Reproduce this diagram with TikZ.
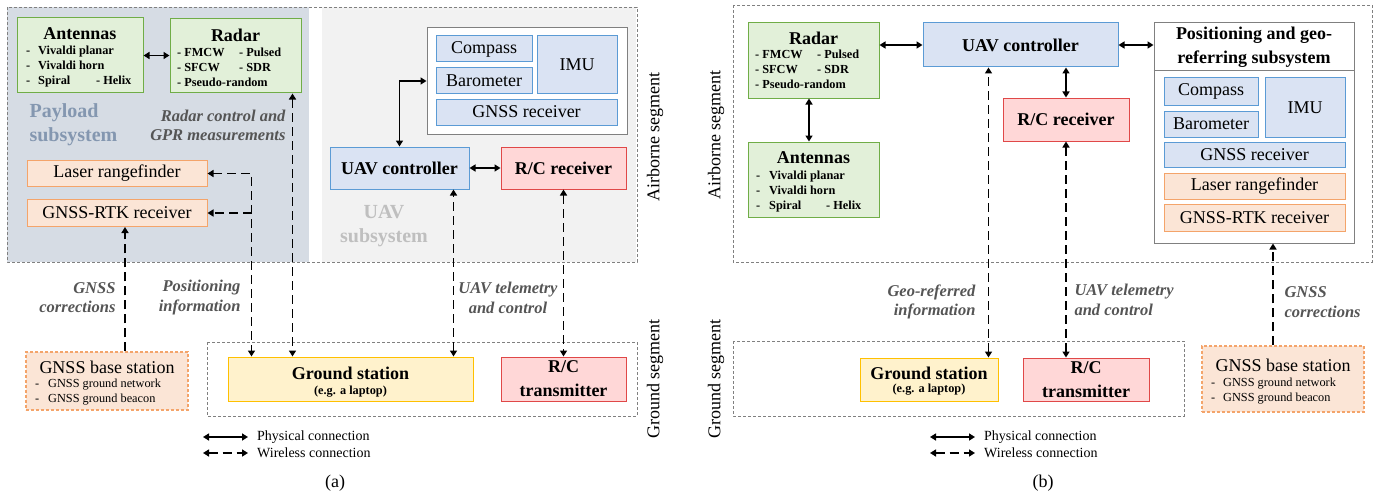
\documentclass[tikz,border=0pt]{standalone}
\usepackage{fontspec}
\setmainfont{Liberation Serif}
\usetikzlibrary{arrows.meta}

\definecolor{payfill}{HTML}{D6DCE4}
\definecolor{paytext}{HTML}{8497B0}
\definecolor{uavfill}{HTML}{F2F2F2}
\definecolor{uavtext}{HTML}{BFBFBF}
\definecolor{grnfill}{HTML}{E2F0D9}
\definecolor{grnline}{HTML}{70AD47}
\definecolor{blufill}{HTML}{DAE3F3}
\definecolor{bluline}{HTML}{5B9BD5}
\definecolor{orgfill}{HTML}{FBE5D6}
\definecolor{orgline}{HTML}{F4A46A}
\definecolor{redfill}{HTML}{FFD7D7}
\definecolor{redline}{HTML}{E04848}
\definecolor{ylwfill}{HTML}{FFF2CC}
\definecolor{ylwline}{HTML}{FFC000}
\definecolor{lbltext}{HTML}{555555}
\definecolor{segline}{HTML}{808080}

\newcommand\bigtxt{\fontsize{18}{21}\selectfont}
\newcommand\tallbig{\fontsize{18}{24}\selectfont\bfseries}
\newcommand\smalltxt{\fontsize{12.3}{15}\selectfont}
\newcommand\labtxt{\fontsize{16.5}{19.5}\selectfont\bfseries\itshape}
\newcommand\subtxt{\fontsize{20}{24}\selectfont\bfseries}
\newcommand\legtxt{\fontsize{14}{16}\selectfont}

\begin{document}
\begin{tikzpicture}[x=1pt, y=-1pt, >={Triangle[length=6pt,width=7pt]},
  sz/.style 2 args={minimum width=#1, minimum height=#2},
  box/.style={draw, line width=1pt, inner sep=0pt, align=center, font=\bigtxt},
  grnbox/.style={box, draw=grnline, fill=grnfill},
  blubox/.style={box, draw=bluline, fill=blufill},
  orgbox/.style={box, draw=orgline, fill=orgfill},
  redbox/.style={box, draw=redline, fill=redfill, font=\tallbig},
  ylwbox/.style={box, draw=ylwline, fill=ylwfill},
  basebox/.style={orgbox, line width=1.2pt, dash pattern=on 3pt off 2pt},
  segbox/.style={draw=segline, line width=0.9pt, dash pattern=on 3pt off 2pt},
  wired/.style={<->, line width=1.6pt},
  wless/.style={line width=1.6pt, dash pattern=on 9pt off 5pt},
  lbl/.style={font=\labtxt, text=lbltext, align=right},
  itm/.style={font=\smalltxt\bfseries, anchor=west, inner sep=0pt},
  ttl/.style={font=\bigtxt\bfseries},
  seg/.style={rotate=90, font=\bigtxt},
  leg/.style={font=\legtxt, anchor=west, inner sep=0pt},
]
\useasboundingbox (0,0) rectangle (1374,495);

% ---------------- (a) ----------------
\fill[payfill] (7,7) rectangle (309,262);
\fill[uavfill] (322,7) rectangle (636,262);
\draw[segbox] (7,7) rectangle (637,262);
\draw[segbox] (207,342) rectangle (637,416);

\node[grnbox, sz={126}{75}] (antA) at (80,55.5) {};
\node[ttl] at (80,34) {Antennas};
\node[itm] at (26,67) {\begin{tabular}{@{}p{12pt}@{}l@{}}
  - & Vivaldi planar\\ - & Vivaldi horn\\ - & \makebox[58pt][l]{Spiral}- Helix\end{tabular}};

\node[grnbox, sz={131}{74}] (radA) at (235.5,56) {};
\node[ttl] at (235.5,35) {Radar};
\node[itm] at (177,68) {\begin{tabular}{@{}p{62pt}@{}l@{}}
  - FMCW & - Pulsed\\ - SFCW & - SDR\\ \multicolumn{2}{@{}l@{}}{- Pseudo-random}\end{tabular}};

\node[font=\subtxt, text=paytext, align=left, anchor=west] at (26,125) {Payload\\subsystem};
\node[lbl, anchor=east] at (289,125.5) {Radar control and\\GPR measurements};

\node[orgbox, sz={180}{26}] (lasA) at (117,173.5) {Laser rangefinder};
\node[orgbox, sz={180}{27}] (rtkA) at (117,213) {GNSS-RTK receiver};

\node[box, draw=segline, fill=white, sz={200}{106}] (sensA) at (527,81) {};
\node[blubox, sz={96}{26}] (cmpA) at (484,49) {Compass};
\node[blubox, sz={96}{26}] (barA) at (484,81) {Barometer};
\node[blubox, sz={80}{58}] (imuA) at (577,65) {IMU};
\node[blubox, sz={181}{26}] (gnsA) at (526.5,112) {GNSS receiver};

\node[blubox, font=\bigtxt\bfseries, sz={139}{42}] (uavA) at (399.5,168) {UAV controller};
\node[redbox, sz={125}{42}] (rcrA) at (563.5,168) {R/C receiver};
\node[font=\subtxt, text=uavtext, align=center] at (384,226) {UAV\\subsystem};

\node[ylwbox, sz={245}{44}] (gsA) at (350.5,379) {};
\node[ttl] at (350.5,373) {Ground station};
\node[font=\smalltxt\bfseries] at (350.5,392) {(e.g. a laptop)};
\node[redbox, sz={125}{44}] (rctA) at (563.5,379) {R/C\\transmitter};

\node[basebox, sz={162}{58}] (baseA) at (107,381) {};
\node[font=\bigtxt] at (107,367) {GNSS base station};
\node[itm, font=\smalltxt] at (35,391.5) {\begin{tabular}{@{}p{13pt}@{}l@{}}
  - & GNSS ground network\\ - & GNSS ground beacon\end{tabular}};

\draw[wired] (antA.east) -- (antA.east -| radA.west);
\draw[wired] (uavA.east) -- (rcrA.west);
\draw[wired] (uavA.north) |- (sensA.west);
\draw[wless,<->] ([xshift=-9]radA.south east) -- ([xshift=-9]radA.south east |- gsA.north);
\draw[wless,<->] (lasA.east) -| ([xshift=24]gsA.north west);
\draw[wless,->] ([xshift=24]gsA.north west |- rtkA.east) -- (rtkA.east);
\draw[wless,<->] ([xshift=-20]gsA.north east) -- ([xshift=-20]gsA.north east |- uavA.south);
\draw[wless,<->] (rcrA.south) -- (rctA.north);
\draw[wless,->] ([xshift=8]rtkA.south |- baseA.north) -- ([xshift=8]rtkA.south);

\node[lbl, anchor=east] at (119,297.5) {GNSS\\corrections};
\node[lbl, anchor=east] at (244,297.5) {Positioning\\information};
\node[lbl, align=center] at (508,298) {UAV telemetry\\and control};

\node[seg] at (655,137) {Airborne segment};
\node[seg] at (655,379) {Ground segment};

\node[leg] (phyA) at (257,437) {Physical connection};
\node[leg] (wlsA) at (257,453) {Wireless connection};
\draw[wired] ([xshift=-54]phyA.west) -- ([xshift=-9]phyA.west);
\draw[wless,<->] ([xshift=-54]wlsA.west) -- ([xshift=-9]wlsA.west);
\node[font=\bigtxt] (capA) at (335,483) {(a)};

% ---------------- (b) ----------------
\draw[segbox] (733,5) rectangle (1372,262);
\draw[segbox] (733,341) rectangle (1184,416);

\node[grnbox, sz={131}{75}] (radB) at (813.5,60.5) {};
\node[ttl] at (813.5,38) {Radar};
\node[itm] at (755,71) {\begin{tabular}{@{}p{62pt}@{}l@{}}
  - FMCW & - Pulsed\\ - SFCW & - SDR\\ \multicolumn{2}{@{}l@{}}{- Pseudo-random}\end{tabular}};

\node[grnbox, sz={131}{75}] (antB) at (813.5,179.5) {};
\node[ttl] at (813.5,158) {Antennas};
\node[itm] at (756,191) {\begin{tabular}{@{}p{13pt}@{}l@{}}
  - & Vivaldi planar\\ - & Vivaldi horn\\ - & \makebox[57pt][l]{Spiral}- Helix\end{tabular}};

\node[blubox, font=\bigtxt\bfseries, sz={195}{44}] (uavB) at (1020.5,45) {UAV controller};
\node[redbox, sz={126}{43}] (rcrB) at (1066,119.5) {R/C receiver};

\node[box, draw=segline, fill=white, sz={200}{220}] (posB) at (1254,133) {};
\draw[segline, line width=1pt] (posB.west |- 0,71) -- (posB.east |- 0,71);
\node[font=\tallbig, align=center] at (1254,47) {Positioning and geo-\\referring subsystem};
\node[blubox, sz={94}{27}] (cmpB) at (1211,91.5) {Compass};
\node[blubox, sz={94}{26}] (barB) at (1211,124) {Barometer};
\node[blubox, sz={80}{59}] (imuB) at (1305,107.5) {IMU};
\node[blubox, sz={181}{25}] (gnsB) at (1254.5,154.5) {GNSS receiver};
\node[orgbox, sz={181}{26}] (lasB) at (1254.5,186) {Laser rangefinder};
\node[orgbox, sz={181}{27}] (rtkB) at (1254.5,218) {GNSS-RTK receiver};

\node[ylwbox, sz={138}{43}] (gsB) at (929,379.5) {};
\node[ttl] at (929,373) {Ground station};
\node[font=\smalltxt\bfseries] at (929,390) {(e.g. a laptop)};
\node[redbox, sz={126}{43}] (rctB) at (1086,379.5) {R/C\\transmitter};

\node[basebox, sz={162}{66}] (baseB) at (1283,379) {};
\node[font=\bigtxt] at (1283,365) {GNSS base station};
\node[itm, font=\smalltxt] at (1211,390.5) {\begin{tabular}{@{}p{12pt}@{}l@{}}
  - & GNSS ground network\\ - & GNSS ground beacon\end{tabular}};

\draw[wired] (uavB.west -| radB.east) -- (uavB.west);
\draw[wired] (uavB.east) -- (uavB.east -| posB.west);
\draw[wired] ([xshift=-4.5]radB.south) -- ([xshift=-4.5]antB.north);
\draw[wired] (rcrB.north) -- (rcrB.north |- uavB.south);
\draw[wless,<->] ([xshift=-10]gsB.north east) -- ([xshift=-10]gsB.north east |- uavB.south);
\draw[wless,<->] (rcrB.south) -- (rcrB.south |- rctB.north);
\draw[wless,->] ([xshift=-10]baseB.north) -- ([xshift=-10]baseB.north |- posB.south);

\node[lbl, anchor=east] at (979,302) {Geo-referred\\information};
\node[lbl, anchor=west, align=left] at (1071,300) {UAV telemetry\\and control};
\node[lbl, anchor=west, align=left] at (1281,302) {GNSS\\corrections};

\node[seg] at (716,135) {Airborne segment};
\node[seg] at (716,379) {Ground segment};

\node[leg] (phyB) at (984,437) {Physical connection};
\node[leg] (wlsB) at (984,453) {Wireless connection};
\draw[wired] ([xshift=-54]phyB.west) -- ([xshift=-9]phyB.west);
\draw[wless,<->] ([xshift=-54]wlsB.west) -- ([xshift=-9]wlsB.west);
\node[font=\bigtxt] (capB) at (1043,483) {(b)};
\end{tikzpicture}
\end{document}
